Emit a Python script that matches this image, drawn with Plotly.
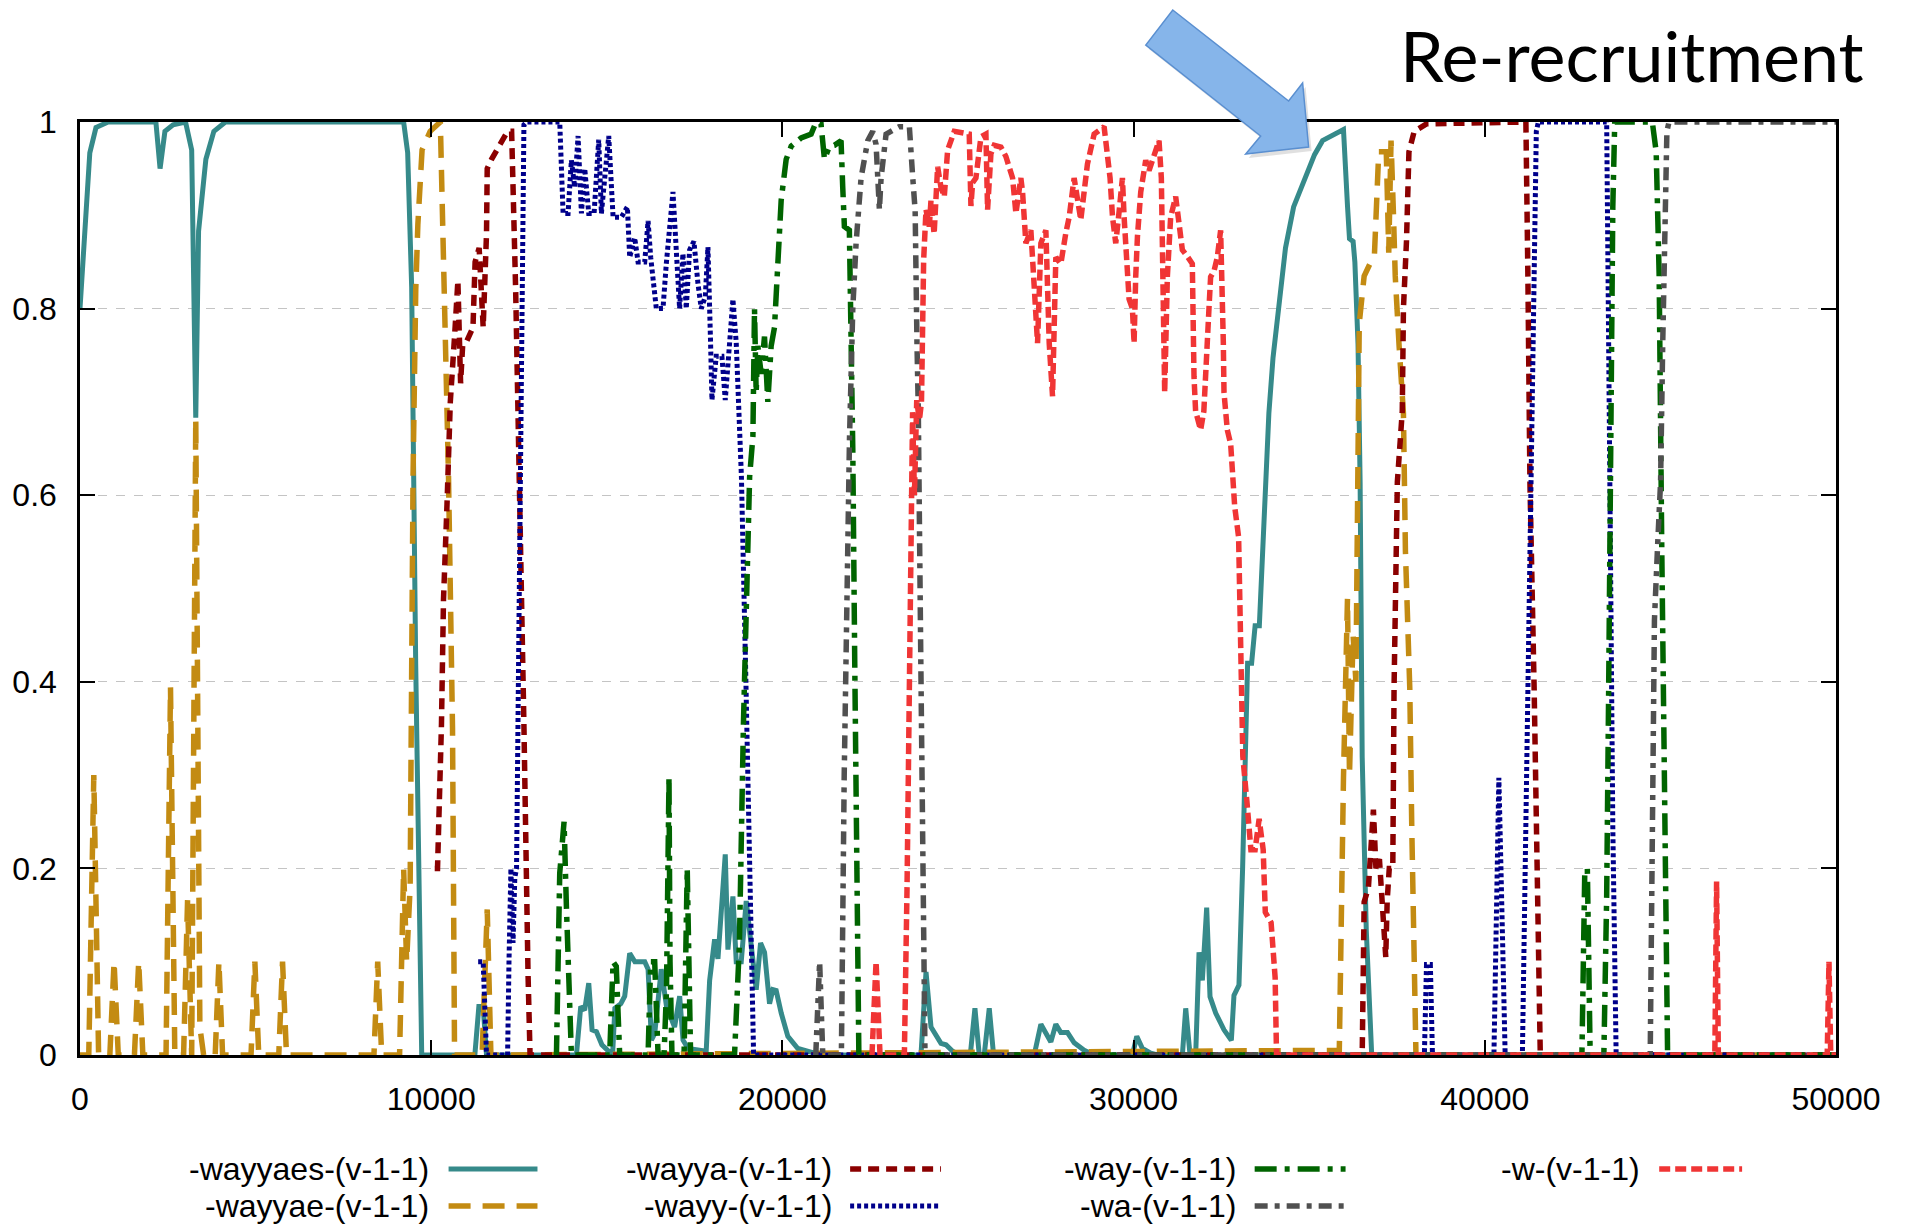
import plotly.graph_objects as go

# ---------------- data ----------------
x_ticks = [0, 10000, 20000, 30000, 40000, 50000]
x_tick_labels = ["0", "10000", "20000", "30000", "40000", "50000"]
y_ticks = [0, 0.2, 0.4, 0.6, 0.8, 1]
y_tick_labels = ["0", "0.2", "0.4", "0.6", "0.8", "1"]

series_names = ["-wayyaes-(v-1-1)", "-wayyae-(v-1-1)", "-wayya-(v-1-1)",
                "-wayy-(v-1-1)", "-way-(v-1-1)", "-wa-(v-1-1)", "-w-(v-1-1)"]

wayyaes_x = [0, 279, 455, 800, 2161, 2280, 2418, 2650, 3005, 3180, 3296, 3376, 3584, 3811, 4140,
             9215, 9330, 9444, 9558, 9730, 11243, 11357, 11480, 11575, 14135, 14258, 14370, 14486,
             14581, 14705, 14860, 15050, 15164, 15230, 15400, 15510, 15652, 15800, 16080, 16175,
             16270, 16365, 16460, 16550, 16700, 16930, 17075, 17170, 17310, 17830, 17928, 18070,
             18165, 18373, 18449, 18591, 18686, 18828, 18970, 19065, 19255, 19378, 19492, 19634,
             19729, 19823, 19966, 20155, 20440, 20914, 21500, 23946, 24089, 24231, 24515, 24657,
             24847, 25036, 25350, 25482, 25605, 25747, 25890, 26013, 27170, 27360, 27644, 27786,
             27928, 28118, 28308, 28592, 28877, 29966, 30090, 30251, 30488, 30678, 31389, 31484,
             31607, 31768, 31863, 31958, 32081, 32176, 32337, 32574, 32783, 32858, 33000, 33104,
             33246, 33360, 33460, 33580, 33750, 33852, 33969, 34148, 34325, 34556, 34797, 35152,
             35380, 35740, 35976, 36092, 36147, 36250, 36300, 36390, 36450, 36509, 36625, 36780,
             50000]
wayyaes_y = [0.80, 0.967, 0.994, 1.0, 1.0, 0.95, 0.99, 0.997, 1.0, 0.97, 0.683, 0.883, 0.96, 0.99, 1.0,
             1.0, 0.967, 0.823, 0.42, 0.0, 0.0, 0.052, 0.052, 0.0, 0.0, 0.052, 0.048, 0.077,
             0.027, 0.025, 0.011, 0.005, 0.0, 0.05, 0.055, 0.063, 0.109, 0.1, 0.1, 0.092,
             0.016, 0.023, 0.06, 0.092, 0.052, 0.03, 0.063, 0.016, 0.007, 0.004, 0.08, 0.124,
             0.103, 0.215, 0.113, 0.17, 0.1, 0.1, 0.165, 0.13, 0.07, 0.12, 0.11, 0.055,
             0.07, 0.069, 0.045, 0.02, 0.007, 0.002, 0.0, 0.0, 0.089, 0.03, 0.0125, 0.011,
             0.004, 0.0, 0.0, 0.05, 0.0, 0.0, 0.05, 0.0, 0.0, 0.033, 0.014, 0.033,
             0.024, 0.024, 0.013, 0.005, 0.0, 0.0, 0.02, 0.007, 0.002, 0.0, 0.0, 0.05,
             0.0, 0.0, 0.11, 0.08, 0.158, 0.0625, 0.045, 0.027, 0.0156, 0.064, 0.075, 0.2,
             0.42, 0.42, 0.46, 0.46, 0.62, 0.688, 0.747, 0.813, 0.865, 0.909, 0.931, 0.965,
             0.98, 0.988, 0.992, 0.909, 0.875, 0.872, 0.85, 0.762, 0.614, 0.319, 0.134, 0.0,
             0.0]

wayyae_x = [0, 250, 393, 530, 850, 970, 1090, 1550, 1671, 1790, 2450, 2577, 2700, 2950, 3063, 3180,
            3296, 3413, 3520, 3850, 3955, 4060, 4870, 4979, 5090, 5660, 5767, 5880, 8370, 8477,
            8590, 9100, 9215, 9300, 9400, 9483, 9560, 9620, 9740, 9970, 10260, 10377, 10493,
            10607, 10665, 11450, 11595, 11700, 35857, 35976, 36033, 36090, 36147, 36250, 36330,
            36425, 36565, 36858, 36980, 37195, 37265, 37330, 37400, 37450, 37560, 37683, 37740,
            37864, 37920, 38040, 50000]
wayyae_y = [0.0, 0.0, 0.30, 0.0, 0.0, 0.10, 0.0, 0.0, 0.10, 0.0, 0.0, 0.394, 0.0, 0.0, 0.166, 0.0,
            0.682, 0.03, 0.0, 0.0, 0.10, 0.0, 0.0, 0.10, 0.0, 0.0, 0.10, 0.0, 0.0, 0.10,
            0.0, 0.0, 0.20, 0.10, 0.18, 0.62, 0.82, 0.89, 0.97, 0.99, 1.0, 0.82, 0.62,
            0.35, 0.0, 0.0, 0.156, 0.0, 0.005, 0.297, 0.407, 0.489, 0.30, 0.45, 0.40,
            0.784, 0.835, 0.858, 0.968, 0.968, 0.86, 0.98, 0.90, 0.835, 0.76, 0.688, 0.54,
            0.393, 0.245, 0.0, 0.0]

wayya_x = [10100, 10180, 10292, 10350, 10450, 10544, 10665, 10760, 10837, 10895, 11010, 11190,
           11250, 11365, 11480, 11575, 11595, 11717, 12175, 12290, 12405, 12520, 12640, 12757,
           12815, 36509, 36565, 36685, 36780, 36828, 36900, 37000, 37040, 37120, 37180, 37220,
           37280, 37380, 37416, 37510, 37650, 37683, 37770, 37840, 37990, 38340, 41170, 41227,
           41285, 41405, 41500, 41580, 50000]
wayya_y = [0.2, 0.2, 0.354, 0.488, 0.59, 0.70, 0.77, 0.83, 0.72, 0.76, 0.765, 0.78,
           0.85, 0.865, 0.78, 0.88, 0.95, 0.96, 0.99, 0.99, 0.82, 0.62, 0.354, 0.087,
           0.0, 0.0, 0.164, 0.179, 0.223, 0.263, 0.2, 0.21, 0.186, 0.142, 0.105, 0.165,
           0.2, 0.2, 0.393, 0.614, 0.69, 0.8, 0.872, 0.968, 0.99, 0.998, 1.0, 0.835,
           0.614, 0.393, 0.17, 0.0, 0.0]

wayy_x = [11337, 11480, 11575, 12175, 12215, 12270, 12330, 12380, 12430, 12466, 12524, 12582,
          12640, 12713, 13660, 13755, 13897, 13992, 14087, 14182, 14277, 14372, 14486, 14638,
          14770, 14846, 15055, 15179, 15415, 15586, 15652, 15794, 15890, 16080, 16175, 16250,
          16410, 16600, 16694, 16884, 16979, 17073, 17168, 17263, 17358, 17481, 17595, 17690,
          17804, 17880, 17955, 17994, 18116, 18278, 18373, 18468, 18591, 18686, 18753, 18833,
          18950, 19044, 19124, 19180, 38280, 38340, 38450, 38510, 40260, 40340, 40400, 40460,
          40520, 40580, 41070, 41170, 41290, 41405, 41467, 41525, 43470, 43527, 43585, 43645,
          43740, 50000]
wayy_y = [0.1, 0.1, 0.0, 0.0, 0.1, 0.2, 0.12, 0.19, 0.2, 0.354, 0.62, 0.886,
          0.997, 1.0, 1.0, 0.902, 0.902, 0.959, 0.93, 0.985, 0.902, 0.95, 0.902, 0.902,
          0.981, 0.902, 0.985, 0.898, 0.898, 0.909, 0.855, 0.876, 0.85, 0.85, 0.894, 0.855,
          0.80, 0.80, 0.848, 0.925, 0.848, 0.80, 0.859, 0.80, 0.863, 0.872, 0.827, 0.80,
          0.813, 0.866, 0.763, 0.702, 0.749, 0.749, 0.702, 0.745, 0.81, 0.763, 0.71, 0.62,
          0.42, 0.22, 0.087, 0.0, 0.0, 0.097, 0.097, 0.0, 0.0, 0.17, 0.297, 0.2,
          0.1, 0.0, 0.0, 0.245, 0.54, 0.835, 0.99, 1.0, 1.0, 0.76, 0.466, 0.245,
          0.0, 0.0]

way_x = [13500, 13566, 13660, 13783, 13850, 13944, 13992, 15082, 15179, 15270, 15367, 16175,
         16250, 16364, 16460, 16630, 16700, 16771, 16800, 16855, 17200, 17290, 17386, 18637,
         18776, 18890, 18985, 19067, 19160, 19206, 19253, 19300, 19396, 19490, 19585, 19680,
         19775, 19870, 19965, 20107, 20250, 20534, 20818, 20960, 21100, 21197, 21340, 21480,
         21670, 21718, 21765, 21907, 21956, 22004, 22060, 22106, 22177, 42765, 42845, 42920,
         43000, 43390, 43470, 43527, 43585, 43645, 43700, 44770, 44880, 44965, 45040, 45125,
         45205, 50000]
way_y = [0.0, 0.0, 0.195, 0.25, 0.159, 0.052, 0.0, 0.0, 0.1, 0.095, 0.0, 0.0,
         0.1, 0.1, 0.0, 0.0, 0.07, 0.298, 0.1, 0.0, 0.0, 0.2, 0.0, 0.0,
         0.119, 0.354, 0.488, 0.62, 0.663, 0.8, 0.71, 0.76, 0.73, 0.77, 0.70, 0.76,
         0.78, 0.847, 0.916, 0.96, 0.974, 0.983, 0.987, 1.0, 0.998, 0.96, 0.974, 0.975,
         0.98, 0.93, 0.888, 0.884, 0.79, 0.65, 0.42, 0.22, 0.0, 0.0, 0.193, 0.2,
         0.0, 0.0, 0.17, 0.393, 0.69, 0.909, 1.0, 1.0, 0.968, 0.835, 0.54, 0.245,
         0.0, 0.0]

wa_x = [20950, 21060, 21150, 21680, 21760, 21830, 21910, 22004, 22098, 22240, 22430, 22572,
        22667, 22762, 22810, 22952, 23190, 23330, 23567, 23615, 23710, 23780, 23832, 23870,
        23942, 23998, 24060, 44710, 44770, 44830, 44925, 45005, 45065, 45125, 45185, 45245,
        50000]
wa_y = [0.0, 0.1, 0.0, 0.0, 0.3, 0.5, 0.66, 0.8, 0.87, 0.94, 0.98, 0.99,
        0.976, 0.906, 0.94, 0.987, 0.993, 0.995, 0.995, 0.995, 0.941, 0.905, 0.763, 0.69,
        0.42, 0.22, 0.0, 0.0, 0.245, 0.466, 0.55, 0.614, 0.76, 0.91, 0.99, 1.0,
        1.0]

w_x = [22550, 22667, 22780, 23473, 23548, 23593, 23650, 23707, 23760, 23825, 23900, 23960,
       24022, 24089, 24183, 24231, 24320, 24420, 24515, 24610, 24705, 24894, 25320, 25368,
       25416, 25510, 25653, 25795, 25842, 25937, 26032, 26222, 26364, 26554, 26649, 26790,
       26838, 26933, 27075, 27170, 27265, 27360, 27502, 27597, 27692, 27786, 27928, 28070,
       28165, 28307, 28496, 28686, 28876, 29160, 29256, 29330, 29400, 29492, 29590, 29682,
       29730, 29806, 29872, 29966, 30014, 30060, 30109, 30203, 30345, 30440, 30582, 30724,
       30790, 30820, 30850, 30885, 30961, 31055, 31198, 31293, 31388, 31530, 31672, 31720,
       31766, 31909, 32000, 32146, 32193, 32288, 32383, 32478, 32525, 32555, 32574, 32668,
       32764, 32878, 32990, 33030, 33060, 33110, 33230, 33340, 33460, 33575, 33690, 33750,
       33915, 34030, 34070, 46550, 46600, 46650, 49750, 49800, 49850, 50000]
w_y = [0.0, 0.1, 0.0, 0.0, 0.177, 0.354, 0.555, 0.689, 0.6, 0.702, 0.68, 0.70,
       0.852, 0.906, 0.888, 0.916, 0.88, 0.952, 0.93, 0.92, 0.97, 0.99, 0.987, 0.91,
       0.935, 0.94, 0.984, 0.987, 0.906, 0.966, 0.975, 0.973, 0.963, 0.94, 0.902, 0.94,
       0.925, 0.87, 0.884, 0.827, 0.763, 0.87, 0.884, 0.763, 0.706, 0.855, 0.848, 0.881,
       0.898, 0.94, 0.895, 0.955, 0.987, 0.995, 0.963, 0.94, 0.898, 0.87, 0.905, 0.94,
       0.898, 0.84, 0.81, 0.8, 0.763, 0.834, 0.877, 0.925, 0.959, 0.948, 0.966, 0.98,
       0.94, 0.888, 0.834, 0.71, 0.834, 0.898, 0.92, 0.895, 0.863, 0.856, 0.848, 0.727,
       0.69, 0.67, 0.69, 0.8, 0.834, 0.84, 0.855, 0.884, 0.834, 0.763, 0.71, 0.67,
       0.655, 0.588, 0.555, 0.454, 0.35, 0.32, 0.27, 0.22, 0.22, 0.253, 0.22, 0.153,
       0.142, 0.083, 0.0, 0.0, 0.186, 0.0, 0.0, 0.1, 0.0, 0.0]

# ---------------- styles ----------------
colors = ["#368a8a", "#c38b12", "#8b0000", "#00008b", "#006400", "#505050", "#f03535"]
dashes = ["solid", "22px,12px", "11px,7px", "4px,3px", "22px,8px,5px,8px",
          "13px,7px,5px,7px", "11px,5px"]
widths = [5, 5.5, 5.5, 5, 5.5, 5.5, 5.5]

xs = [wayyaes_x, wayyae_x, wayya_x, wayy_x, way_x, wa_x, w_x]
ys = [wayyaes_y, wayyae_y, wayya_y, wayy_y, way_y, wa_y, w_y]

W, H = 1910, 1224
L, R, T, B = 78, 74, 122, 169
PW, PH = W - L - R, H - T - B


def paper(px, py):
    return (px - L) / PW, (H - B - py) / PH


fig = go.Figure()
for name, x, y, c, d, w in zip(series_names, xs, ys, colors, dashes, widths):
    fig.add_trace(go.Scatter(x=x, y=y, mode="lines", name=name,
                             line=dict(color=c, dash=d, width=w), showlegend=False))

font_main = "Liberation Sans, Arial, sans-serif"

fig.update_layout(
    width=W, height=H,
    margin=dict(l=L, r=R, t=T, b=B),
    paper_bgcolor="white", plot_bgcolor="white",
    showlegend=False,
    xaxis=dict(range=[0, 50000], tickvals=x_ticks, ticktext=x_tick_labels,
               ticks="inside", ticklen=15, tickwidth=2, tickcolor="black",
               showline=True, linecolor="black", linewidth=2.5, mirror="ticks",
               showgrid=False, zeroline=False, ticklabelstandoff=14,
               tickfont=dict(family=font_main, size=32, color="black")),
    yaxis=dict(range=[0, 1], tickvals=y_ticks, ticktext=y_tick_labels,
               ticks="inside", ticklen=15, tickwidth=2, tickcolor="black",
               showline=True, linecolor="black", linewidth=2.5, mirror="ticks",
               showgrid=True, gridcolor="#c4c4c4", griddash="dash", gridwidth=1,
               zeroline=False, ticklabelstandoff=14,
               tickfont=dict(family=font_main, size=32, color="black")),
)

# ---------------- custom gnuplot-style legend ----------------
legend_cols = [(429, 447, 536), (833, 849, 940), (1237, 1254, 1345), (1642, 1659, 1742)]
legend_rows = [1169, 1206]
shapes = []
annotations = []
for i, name in enumerate(series_names):
    col, row = i // 2, i % 2
    tr, s0, s1 = legend_cols[col]
    py = legend_rows[row]
    tx, ty = paper(tr, py)
    annotations.append(dict(x=tx, y=ty, xref="paper", yref="paper", text=name,
                            showarrow=False, xanchor="right", yanchor="middle",
                            font=dict(family=font_main, size=32, color="black")))
    x0, y0 = paper(s0, py)
    x1, _ = paper(s1, py)
    shapes.append(dict(type="line", xref="paper", yref="paper", x0=x0, x1=x1, y0=y0, y1=y0,
                       line=dict(color=colors[i], width=widths[i], dash=dashes[i])))

# ---------------- arrow + label ----------------
arrow_px = [(1172, 10), (1288, 101), (1302, 83), (1308, 147), (1245, 154), (1260, 136), (1145, 45)]
shadow = "M " + " L ".join("%.5f,%.5f" % paper(px + 3, py + 4) for px, py in arrow_px) + " Z"
path = "M " + " L ".join("%.5f,%.5f" % paper(px, py) for px, py in arrow_px) + " Z"
shapes.append(dict(type="path", xref="paper", yref="paper", path=shadow,
                   fillcolor="rgba(0,0,0,0.12)", line=dict(width=0)))
shapes.append(dict(type="path", xref="paper", yref="paper", path=path,
                   fillcolor="#86b5ea", line=dict(color="#5a8fd0", width=1.5)))

tx, ty = paper(1866, 55)
annotations.append(dict(x=tx, y=ty, xref="paper", yref="paper", text="Re-recruitment",
                        showarrow=False, xanchor="right", yanchor="middle",
                        font=dict(family="Lato, Open Sans, sans-serif", size=70, color="black")))

fig.update_layout(shapes=shapes, annotations=annotations)
fig.write_html("out.html", config={"displayModeBar": False},
               post_script="document.body.style.margin='0';document.body.style.overflow='hidden';")
